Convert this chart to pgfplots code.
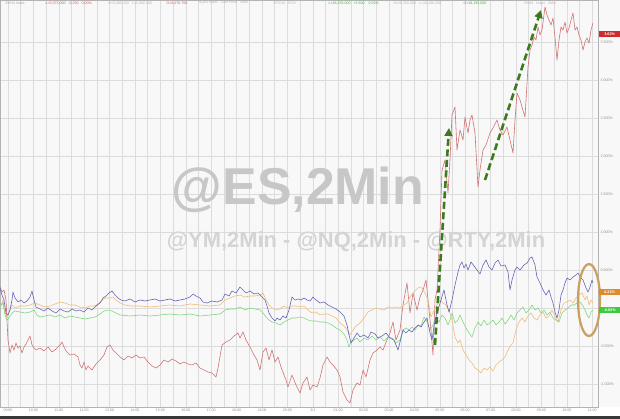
\documentclass[border=0pt]{standalone}
\usepackage{pgfplots}
\pgfplotsset{compat=1.18}
\usepackage{fontspec}
\setmainfont{Liberation Sans}
\usetikzlibrary{arrows.meta}
\definecolor{cRed}{HTML}{D07272}
\definecolor{cBlue}{HTML}{6464B6}
\definecolor{cOrange}{HTML}{F0BC78}
\definecolor{cGreen}{HTML}{80D880}
\definecolor{cArrow}{HTML}{3D7A1E}
\definecolor{cEll}{HTML}{C9A060}
\definecolor{cGrid}{HTML}{DCDCDC}
\definecolor{cBg}{HTML}{F8F8F8}
\definecolor{cLblRed}{HTML}{D22A2A}
\definecolor{cLblOr}{HTML}{E08A2E}
\definecolor{cLblGr}{HTML}{3CCB3C}
\begin{document}
\begin{tikzpicture}
\useasboundingbox (0,-12bp) rectangle (620bp,407bp);
\fill[cBg] (0,0) rectangle (620bp,407bp);
\fill[black!78] (0,-12bp) rectangle (620bp,-8.5bp);
\begin{axis}[
  at={(0,0)}, anchor=south west,
  scale only axis, width=598bp, height=407bp,
  xmin=0, xmax=598, ymin=-1.3026, ymax=4.0526,
  y filter/.expression={(308-y)/76},
  clip=false,
  axis background/.style={fill=cBg},
  axis line style={draw=black!30, line width=0.5bp},
  grid=both,
  major grid style={draw=cGrid, line width=0.6bp},
  minor grid style={draw=cGrid, line width=0.6bp},
  xtick={8,33.4,...,593},
  minor xtick={20.7,46.1,...,593},
  xticklabels={09:00,10:00,11:00,12:00,13:00,14:00,15:00,16:00,17:00,18:00,19:00,20:00,2/1,01:00,02:00,03:00,04:00,05:00,06:00,07:00,08:00,09:00,10:00,11:00},
  ytick={-1,-0.5,0,0.5,1,1.5,2,2.5,3,3.5},
  yticklabel pos=right,
  yticklabels={-1.000\%,-0.500\%,,0.500\%,1.000\%,1.500\%,2.000\%,2.500\%,3.000\%,3.500\%},
  /pgf/number format/assume math mode=true,
  tick style={draw=none},
  ticklabel style={font=\fontsize{3.6}{4}\selectfont, text=black!45},
  xticklabel style={yshift=2bp},
  yticklabel style={xshift=-1bp},
  every axis plot/.append style={line width=0.6bp, line join=round},
]
% watermarks
\node[text=black!22, font=\fontsize{52}{56}\selectfont\bfseries] at (axis cs:298,1.553) {@ES,2Min};
\node[text=black!17, font=\fontsize{22}{24}\selectfont\bfseries] at (axis cs:356,0.868) {@YM,2Min - @NQ,2Min - @RTY,2Min};
% header
\begin{scope}[font=\fontsize{3.6}{4}\selectfont]
\node[anchor=west, text=black!35] at (axis cs:2,4.013) {ESH4 Index};
\node[anchor=west, text=cLblRed!80] at (axis cs:42,4.013) {L=5,073.000 \ \ -0.250 \ \ 0.00\%};
\node[anchor=west, text=black!30] at (axis cs:105,4.013) {H=5,080.250 \ \ L=5,066.500};
\node[anchor=west, text=cLblRed!80] at (axis cs:163,4.013) {O=5,070.750};
\node[anchor=west, text=black!30] at (axis cs:195,4.013) {NQH4 Index \ \ Last Price \ \ 2Min};
\node[anchor=west, text=black!30] at (axis cs:270,4.013) {RTYH4 \ \ ECH};
\node[anchor=west, text=cLblGr!90!black] at (axis cs:325,4.013) {L=18,235.000 \ \ +2.500 \ \ \ 0.01\%};
\node[anchor=west, text=black!30] at (axis cs:390,4.013) {H=18,260.000 \ \ L=18,180.250};
\node[anchor=west, text=cLblGr!90!black] at (axis cs:460,4.013) {O=18,193.000};
\node[anchor=west, text=black!30] at (axis cs:520,4.013) {YMH4 \ \ Index \ \ 2Min};
\end{scope}
% red (ES)
\addplot[cRed] coordinates {
(0,287)(2,292)(4,290)(6,300)(8,340)(10,353)(12,345)(14,350)(16,343)(18,348)(20,346)(22,353)(24,347)(26,344)(28,340)(30,336)(32,345)(34,348)(36,350)(40,348)(44,351)(48,347)(52,352)(56,349)(60,345)(62,342)(64,347)(66,351)(70,355)(74,354)(78,357)(80,365)(82,368)(84,362)(86,370)(88,366)(92,370)(96,364)(100,360)(104,355)(107,347)(110,345)(113,350)(116,353)(120,357)(124,360)(128,356)(132,358)(136,355)(140,358)(144,357)(148,362)(152,366)(156,368)(160,365)(164,360)(168,362)(172,359)(176,361)(180,364)(184,362)(188,364)(192,365)(196,363)(200,368)(204,370)(208,372)(212,373)(216,377)(218,368)(222,345)(226,342)(230,340)(234,336)(238,333)(240,338)(243,332)(246,340)(250,347)(254,355)(257,360)(260,370)(263,352)(266,348)(269,360)(272,350)(275,362)(278,357)(281,367)(284,375)(286,380)(288,387)(292,375)(296,385)(300,393)(303,383)(307,377)(310,390)(313,385)(317,387)(320,378)(323,365)(327,357)(330,362)(333,365)(337,370)(340,377)(343,392)(347,400)(350,403)(353,390)(357,383)(360,385)(363,370)(366,377)(370,360)(373,353)(377,350)(380,347)(383,350)(387,340)(390,333)(393,322)(396,340)(400,330)(403,305)(407,283)(410,313)(413,293)(417,310)(420,297)(423,290)(426,280)(429,310)(431,330)(433,355)(435,300)(437,290)(440,230)(442,170)(445,160)(448,193)(450,160)(452,115)(455,107)(457,150)(460,130)(463,140)(465,117)(468,133)(470,120)(472,115)(475,133)(478,187)(480,170)(483,150)(486,145)(490,133)(493,128)(497,120)(500,130)(503,135)(507,127)(510,140)(513,153)(515,120)(517,93)(520,100)(522,107)(525,117)(528,67)(530,50)(532,45)(534,37)(536,40)(538,27)(540,35)(542,30)(545,7)(547,15)(549,20)(551,25)(553,18)(555,37)(557,60)(559,40)(561,27)(563,30)(565,22)(567,33)(569,28)(571,20)(573,13)(575,30)(577,27)(579,35)(581,40)(583,50)(585,42)(587,38)(589,43)(591,30)(593,23)
};
% orange
\addplot[cOrange] coordinates {
(0,308)(3,300)(5,312)(7,318)(9,312)(12,305)(15,308)(20,306)(25,306)(30,305)(35,303)(40,305)(45,307)(50,306)(55,304)(60,302)(65,303)(70,305)(75,305)(80,307)(85,308)(90,306)(95,306)(100,302)(105,298)(110,298)(113,297)(116,300)(120,303)(125,305)(130,306)(140,306)(150,307)(160,306)(170,305)(180,306)(190,304)(200,305)(210,306)(220,305)(225,300)(230,298)(235,296)(240,295)(245,297)(250,296)(255,296)(260,295)(263,293)(266,300)(269,305)(272,308)(276,310)(280,309)(284,306)(288,308)(292,306)(296,306)(300,307)(304,306)(308,310)(312,313)(316,312)(320,315)(324,314)(328,314)(332,316)(336,318)(340,323)(344,326)(347,330)(350,335)(353,330)(356,326)(360,323)(364,318)(368,312)(372,310)(376,308)(380,309)(384,310)(388,307)(392,308)(396,307)(400,308)(404,305)(407,303)(410,297)(413,293)(416,290)(419,287)(422,288)(425,293)(428,300)(431,317)(434,310)(437,305)(440,300)(443,303)(446,305)(449,310)(452,320)(455,337)(458,343)(460,340)(463,350)(466,355)(469,360)(472,363)(475,368)(478,370)(481,373)(484,368)(487,370)(490,367)(493,371)(496,365)(499,362)(502,360)(505,357)(508,350)(511,345)(513,343)(516,330)(519,322)(522,318)(525,322)(528,316)(531,313)(534,318)(537,320)(540,315)(543,312)(546,318)(549,316)(552,310)(555,316)(558,322)(561,310)(564,303)(567,302)(570,300)(573,303)(576,298)(579,295)(582,293)(585,300)(587,296)(589,305)(591,300)(593,303)
};
% green
\addplot[cGreen] coordinates {
(0,307)(3,303)(5,315)(7,320)(9,318)(12,313)(15,311)(20,312)(25,313)(30,312)(34,310)(37,315)(40,317)(45,316)(50,315)(55,317)(60,315)(65,318)(70,316)(75,317)(80,318)(85,319)(90,318)(95,317)(100,314)(104,311)(108,310)(112,311)(116,313)(120,315)(130,316)(140,315)(150,316)(160,315)(170,314)(180,315)(190,314)(200,316)(210,315)(220,314)(225,310)(230,309)(235,309)(240,307)(245,310)(250,308)(255,309)(260,310)(263,313)(266,317)(269,320)(272,322)(276,323)(280,325)(284,322)(288,320)(292,318)(296,318)(300,317)(304,318)(308,320)(312,321)(316,321)(320,322)(324,322)(328,323)(332,325)(336,328)(340,330)(344,334)(347,340)(349,347)(351,342)(354,340)(357,338)(360,342)(364,338)(368,340)(372,336)(376,340)(380,337)(384,341)(388,337)(392,338)(396,343)(400,340)(403,330)(406,328)(409,330)(412,327)(415,330)(418,325)(421,326)(424,317)(427,322)(430,330)(433,325)(436,318)(439,322)(442,315)(445,318)(448,325)(450,320)(452,313)(455,323)(458,320)(460,315)(463,322)(466,328)(469,333)(472,337)(475,328)(478,322)(481,326)(484,320)(487,325)(490,323)(493,320)(496,325)(499,322)(502,318)(505,324)(508,320)(511,315)(514,320)(517,313)(520,310)(523,307)(526,313)(529,310)(532,305)(535,310)(538,308)(541,313)(544,310)(547,315)(550,312)(553,318)(556,320)(559,322)(562,313)(565,310)(568,308)(571,305)(574,305)(577,303)(580,302)(583,306)(585,310)(587,315)(589,318)(591,312)(593,310)
};
% blue
\addplot[cBlue] coordinates {
(0,288)(2,295)(4,300)(6,313)(8,315)(10,310)(12,300)(13,292)(15,298)(18,302)(21,300)(24,303)(27,301)(30,297)(32,291)(34,300)(36,307)(40,309)(44,311)(48,308)(52,311)(56,313)(60,309)(64,311)(68,312)(72,309)(76,311)(80,310)(84,312)(88,308)(92,310)(96,306)(100,303)(103,298)(106,296)(109,293)(112,291)(115,295)(118,298)(121,300)(125,301)(130,299)(135,302)(140,300)(145,301)(150,300)(155,299)(160,301)(165,300)(170,299)(175,301)(180,300)(185,299)(190,297)(193,294)(196,296)(200,298)(203,302)(207,303)(212,301)(217,302)(222,300)(225,294)(229,296)(232,291)(236,293)(240,287)(243,290)(246,293)(250,291)(254,294)(258,293)(262,297)(265,300)(267,306)(269,313)(272,318)(275,321)(277,318)(280,320)(283,316)(286,318)(289,310)(292,297)(295,300)(298,299)(301,300)(304,298)(307,300)(310,301)(313,297)(316,300)(320,303)(324,302)(328,305)(332,307)(336,309)(340,312)(344,316)(347,325)(349,335)(351,343)(354,338)(357,333)(360,337)(364,335)(368,338)(371,332)(375,334)(378,338)(382,336)(386,333)(390,338)(394,340)(396,345)(398,350)(400,342)(403,330)(406,333)(409,330)(412,332)(415,328)(418,325)(421,327)(424,322)(427,318)(430,333)(432,340)(435,320)(438,310)(441,300)(444,290)(447,305)(449,312)(452,300)(455,285)(458,272)(460,265)(462,262)(464,268)(466,264)(468,270)(471,262)(474,266)(477,270)(480,274)(483,265)(486,260)(489,267)(492,270)(495,263)(498,260)(501,266)(505,265)(508,272)(510,290)(512,280)(515,270)(517,267)(520,270)(524,265)(527,263)(530,258)(532,257)(535,265)(537,277)(540,283)(543,290)(546,295)(549,290)(551,297)(553,303)(555,312)(557,318)(559,310)(561,295)(563,290)(565,283)(567,278)(570,280)(573,277)(576,275)(578,273)(580,277)(583,280)(586,288)(588,292)(590,287)(592,280)(593,283)
};
% annotation arrows
\addplot[cArrow, line width=2.6bp, dash pattern=on 7bp off 3.5bp, -{Triangle[length=8bp,width=8bp]}] coordinates {(435,345) (449,128)};
\addplot[cArrow, line width=2.6bp, dash pattern=on 7bp off 3.5bp, -{Triangle[length=8bp,width=8bp]}] coordinates {(485,180) (541,10)};
% ellipse
\draw[cEll, line width=2.2bp] (axis cs:589,0.105) ellipse [x radius=11bp, y radius=36bp];
% right labels
\begin{scope}[font=\fontsize{3.8}{4}\selectfont\bfseries, text=white, inner sep=0.8bp, anchor=west, minimum width=21bp, minimum height=5.5bp]
\node[fill=cLblRed] at (axis cs:599,3.605) {3.62\%};
\node[fill=cLblOr] at (axis cs:599,0.21) {0.21\%};
\node[fill=cLblGr] at (axis cs:599,-0.026) {-0.03\%};
\end{scope}
\end{axis}
\end{tikzpicture}
\end{document}
